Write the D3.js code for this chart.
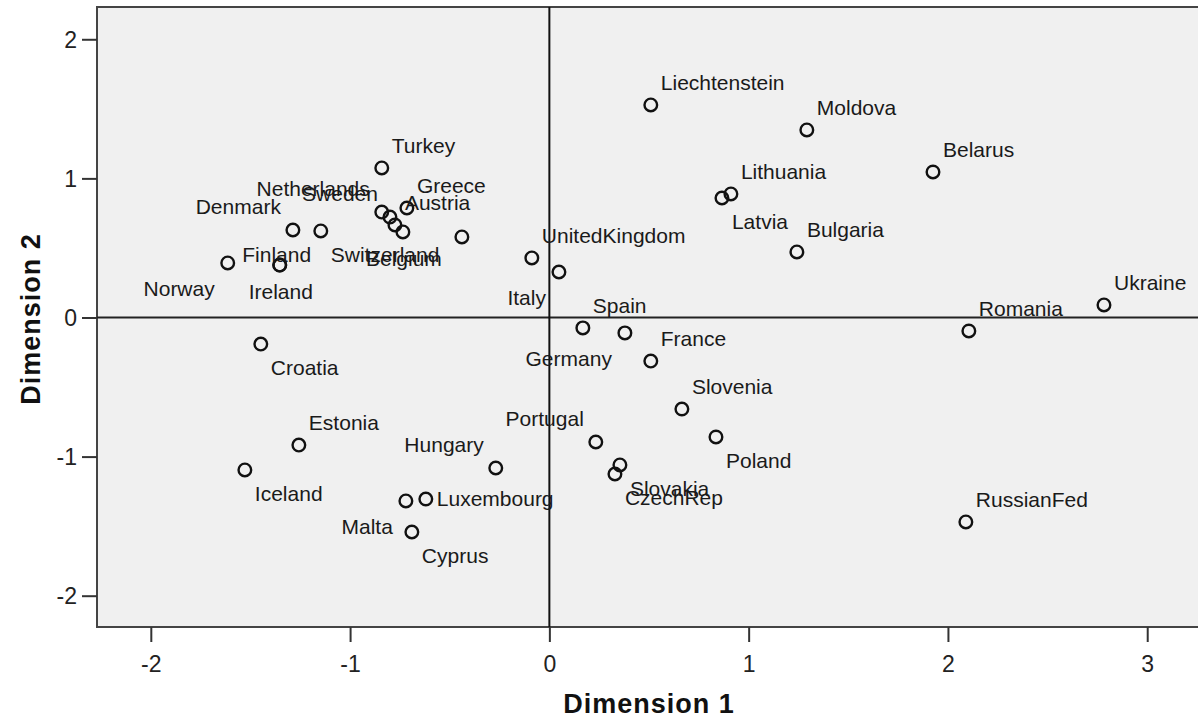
<!DOCTYPE html>
<html lang="en">
<head>
  <meta charset="UTF-8">
  <title>Dimension plot</title>
  <script src="https://d3js.org/d3.v7.min.js"></script>
  <style>
    body {
      margin: 0;
      padding: 0;
      background: #fff;
    }
    svg {
      display: block;
    }
    .pt-label {
      font-family: 'Liberation Sans', Arial, sans-serif;
      font-size: 21px;
      fill: #1a1a1a;
    }
    .tick-label {
      font-family: 'Liberation Sans', Arial, sans-serif;
      font-size: 23px;
      fill: #222;
    }
    .axis-title {
      font-family: 'Liberation Sans', Arial, sans-serif;
      font-size: 27px;
      font-weight: bold;
      letter-spacing: 1px;
      fill: #111;
    }
  </style>
</head>
<body>
  <svg id="chart" width="1198" height="719"></svg>

  <script>
    // object points
    var countries = ['Liechtenstein', 'Moldova', 'Belarus', 'Lithuania', 'Latvia', 'Bulgaria',
      'UnitedKingdom', 'Italy', 'Spain', 'Germany', 'France', 'Slovenia', 'Poland', 'Portugal',
      'Slovakia', 'CzechRep', 'Hungary', 'Luxembourg', 'Malta', 'Cyprus', 'Iceland', 'Estonia',
      'Croatia', 'Ukraine', 'Romania', 'RussianFed', 'Turkey', 'Netherlands', 'Sweden', 'Austria',
      'Belgium', 'Greece', '', 'Switzerland', 'Denmark', 'Finland', 'Ireland', 'Norway'];
    var dim1 = [0.509, 1.292, 1.925, 0.911, 0.866, 1.242,
      -0.088, 0.048, 0.168, 0.379, 0.509, 0.665, 0.836, 0.233,
      0.354, 0.329, -0.269, -0.620, -0.720, -0.690, -1.528, -1.257,
      -1.448, 2.783, 2.105, 2.090, -0.841, -0.841, -0.800, -0.775,
      -0.735, -0.715, -0.439, -1.147, -1.287, -1.353, -1.353, -1.614];
    var dim2 = [1.528, 1.348, 1.046, 0.888, 0.859, 0.471,
      0.428, 0.327, -0.075, -0.111, -0.313, -0.658, -0.859, -0.895,
      -1.060, -1.125, -1.082, -1.305, -1.319, -1.542, -1.096, -0.917,
      -0.191, 0.090, -0.097, -1.470, 1.075, 0.758, 0.722, 0.665,
      0.615, 0.787, 0.579, 0.622, 0.629, 0.377, 0.377, 0.392];
    // where each label sits around its point
    var labelSide = ['tr', 'tr', 'tr', 'tr', 'br', 'tr',
      'tr', 'bl', 'tr', 'bl', 'tr', 'tr', 'br', 'tl',
      'br', 'br', 'tl', 'r', 'bl', 'br', 'br', 'tr',
      'br', 'tr', 'tr', 'tr', 'tr', 'tl', 'tl', 'tr',
      'b', 'tr', 'none', 'br', 'tl', 'c', 'b', 'bl'];

    var xTicks = [-2, -1, 0, 1, 2, 3];
    var yTicks = [-2, -1, 0, 1, 2];
    var xTitle = 'Dimension 1';
    var yTitle = 'Dimension 2';

    var svg = d3.select('#chart');
    var plotL = 97, plotT = 7, plotB = 627, plotR = 1207;

    var x = d3.scaleLinear().domain([-2.27, 3.3]).range([plotL, plotR]);
    var y = d3.scaleLinear().domain([-2.225, 2.232]).range([plotB, plotT]);

    var points = countries.map(function(name, i) {
      return {name: name, d1: dim1[i], d2: dim2[i], side: labelSide[i]};
    });

    // plot frame
    svg.append('rect')
      .attr('x', plotL).attr('y', plotT)
      .attr('width', plotR - plotL).attr('height', plotB - plotT)
      .attr('fill', '#f0f0f0')
      .attr('stroke', '#444')
      .attr('stroke-width', 2);

    var fmt = function(d) {return String(d)};

    // axes with ticks
    var xAxis = svg.append('g')
      .attr('transform', 'translate(0,' + plotB + ')')
      .call(d3.axisBottom(x).tickValues(xTicks).tickSize(15).tickSizeOuter(0).tickPadding(10).tickFormat(fmt));
    var yAxis = svg.append('g')
      .attr('transform', 'translate(' + plotL + ',0)')
      .call(d3.axisLeft(y).tickValues(yTicks).tickSize(15).tickSizeOuter(0).tickPadding(5).tickFormat(fmt));

    [xAxis, yAxis].forEach(function(ax) {
      ax.select('.domain').remove();
      ax.selectAll('line').attr('stroke', '#333').attr('stroke-width', 2);
      ax.selectAll('text').attr('class', 'tick-label').attr('fill', null);
    });
    xAxis.selectAll('text').attr('dy', '0.85em');
    yAxis.selectAll('text').attr('dy', '0.36em');

    // zero reference lines
    svg.append('line')
      .attr('x1', plotL).attr('x2', plotR)
      .attr('y1', y(0)).attr('y2', y(0))
      .attr('stroke', '#222').attr('stroke-width', 2);
    svg.append('line')
      .attr('x1', x(0)).attr('x2', x(0))
      .attr('y1', plotT).attr('y2', plotB)
      .attr('stroke', '#111').attr('stroke-width', 2);

    svg.selectAll('circle.pt')
      .data(points).enter().append('circle')
      .attr('class', 'pt')
      .attr('cx', function(d) {return x(d.d1)})
      .attr('cy', function(d) {return y(d.d2)})
      .attr('r', 6.3)
      .attr('fill', 'none')
      .attr('stroke', '#111')
      .attr('stroke-width', 2.4);

    var offsets = {
      tr: [10, -15, 'start'],
      tl: [-12, -16, 'end'],
      br: [10, 31, 'start'],
      bl: [-13, 33, 'end'],
      r: [11, 7, 'start'],
      c: [-3, -3, 'middle'],
      b: [1, 34, 'middle']
    };

    svg.selectAll('text.pt-label')
      .data(points.filter(function(d) {return d.name && d.side !== 'none'}))
      .enter().append('text')
      .attr('class', 'pt-label')
      .attr('x', function(d) {return x(d.d1) + offsets[d.side][0]})
      .attr('y', function(d) {return y(d.d2) + offsets[d.side][1]})
      .attr('text-anchor', function(d) {return offsets[d.side][2]})
      .text(function(d) {return d.name});

    // axis titles
    svg.append('text')
      .attr('class', 'axis-title')
      .attr('x', 649).attr('y', 713)
      .attr('text-anchor', 'middle')
      .text(xTitle);
    svg.append('text')
      .attr('class', 'axis-title')
      .attr('transform', 'translate(40,319)rotate(-90)')
      .attr('text-anchor', 'middle')
      .text(yTitle);
  </script>
</body>
</html>
